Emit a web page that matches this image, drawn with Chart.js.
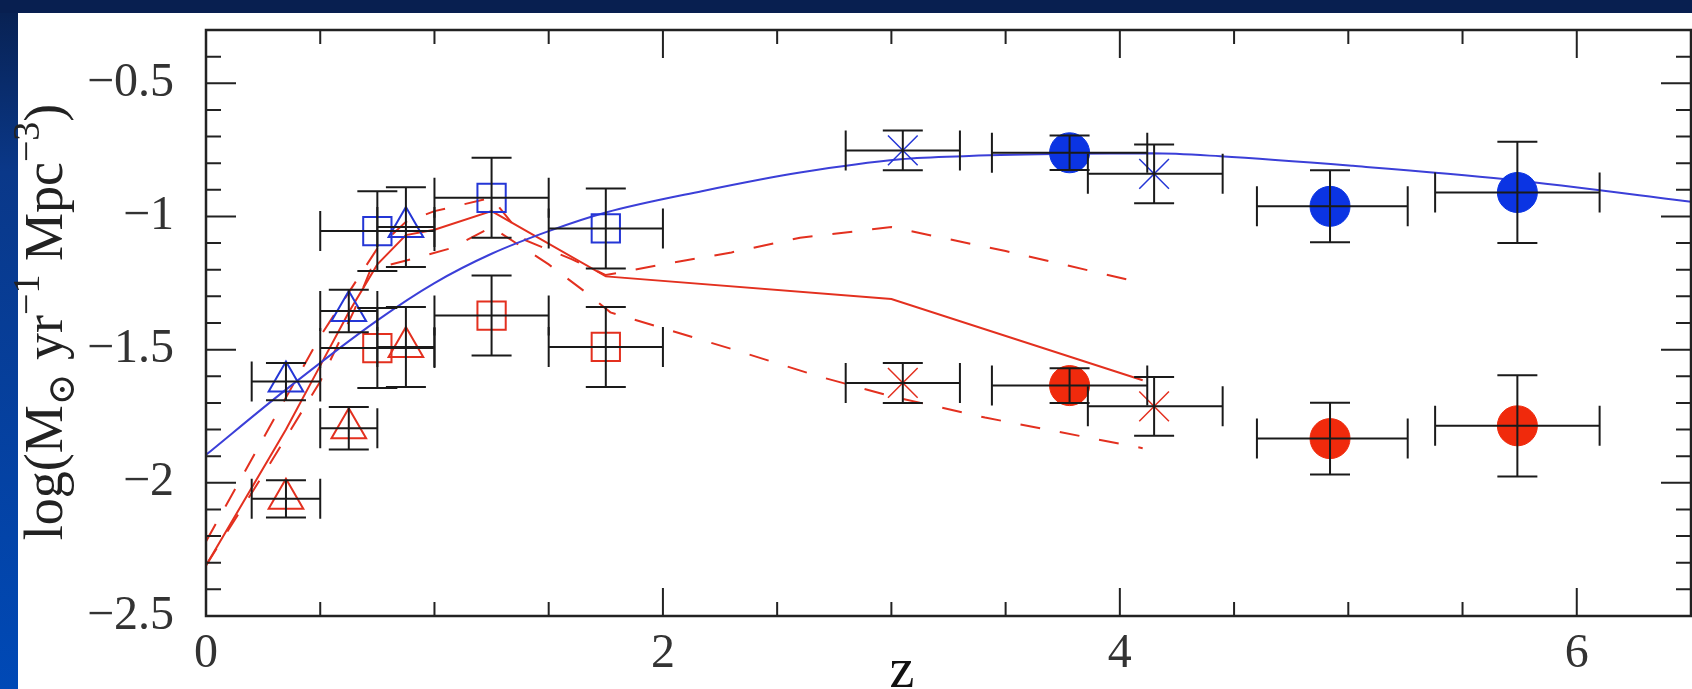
<!DOCTYPE html>
<html>
<head>
<meta charset="utf-8">
<script src="https://cdn.jsdelivr.net/npm/chart.js@4.4.1/dist/chart.umd.min.js"></script>
<style>
  html, body { margin: 0; padding: 0; background: #ffffff; }
  #sfr-chart { display: block; }
</style>
</head>
<body>
<canvas id="sfr-chart" width="1692" height="689"></canvas>
<script>
// axis ticks
var xMajorTicks = [0, 2, 4, 6];
var yMajorTicks = [-2.5, -2, -1.5, -1, -0.5];

// open triangles (z bins 0.2-0.5, 0.5-0.75, 0.75-1)
var triZ = [0.35, 0.625, 0.875];
var triZLo = [0.2, 0.5, 0.75];
var triZHi = [0.5, 0.75, 1.0];
var triBlue = [-1.62, -1.355, -1.04];
var triRed = [-2.06, -1.795, -1.49];
var triErr = [0.07, 0.08, 0.15];

// open squares
var sqZ = [0.75, 1.25, 1.75];
var sqZLo = [0.5, 1.0, 1.5];
var sqZHi = [1.0, 1.5, 2.0];
var sqBlue = [-1.055, -0.93, -1.045];
var sqRed = [-1.494, -1.372, -1.49];
var sqErr = [0.15, 0.15, 0.15];

// crosses
var crossZ = [3.05, 4.15];
var crossZLo = [2.8, 3.86];
var crossZHi = [3.3, 4.45];
var crossBlue = [-0.752, -0.84];
var crossRed = [-1.625, -1.713];
var crossErr = [0.075, 0.11];

// filled circles
var circZ = [3.78, 4.92, 5.74];
var circZLo = [3.44, 4.6, 5.38];
var circZHi = [4.12, 5.26, 6.1];
var circBlue = [-0.761, -0.962, -0.91];
var circRed = [-1.635, -1.834, -1.786];
var circErr = [0.065, 0.135, 0.19];

// model curves
var blueModelZ = [0, 0.35, 0.75, 1.0, 1.25, 1.5, 1.75, 2.17, 2.6, 3.04, 3.34, 3.78, 4.14, 4.44, 5.02, 5.69, 6.42, 6.5];
var blueModel = [-1.895, -1.65, -1.39, -1.25, -1.14, -1.055, -0.985, -0.905, -0.835, -0.785, -0.773, -0.765, -0.763, -0.774, -0.81, -0.86, -0.936, -0.945];

var redSolidZ = [0, 0.35, 0.5, 0.625, 0.75, 0.875, 1.0, 1.25, 1.75, 3.0, 4.1];
var redSolid = [-2.31, -1.8, -1.56, -1.36, -1.18, -1.07, -1.05, -0.98, -1.225, -1.31, -1.615];

var redUpperZ = [0, 0.35, 0.5, 0.75, 0.875, 1.0, 1.25, 1.4, 1.6, 1.75, 2.0, 2.3, 2.6, 3.0, 3.5, 4.1];
var redUpper = [-2.22, -1.68, -1.45, -1.12, -1.02, -0.98, -0.93, -1.09, -1.16, -1.22, -1.18, -1.135, -1.08, -1.04, -1.13, -1.25];

var redLowerZ = [0, 0.25, 0.5, 0.65, 0.72, 0.9, 1.07, 1.25, 1.5, 1.67, 1.77, 2.31, 2.68, 3.0, 3.41, 4.1];
var redLower = [-2.31, -1.97, -1.62, -1.35, -1.2, -1.16, -1.12, -1.04, -1.18, -1.29, -1.36, -1.5, -1.6, -1.675, -1.755, -1.87];

var blue = "#2436d6";
var red = "#e3301f";
var serif = "'Liberation Serif', 'DejaVu Serif', serif";

function withErrors(z, zLo, zHi, vals, err) {
  return z.map(function (v, i) {
    return { x: v, y: vals[i], xMin: zLo[i], xMax: zHi[i], yMin: vals[i] - err[i], yMax: vals[i] + err[i] };
  });
}

function curve(z, vals) {
  return z.map(function (v, i) { return { x: v, y: vals[i] }; });
}

function minus(v) {
  return (v < 0 ? "\u2212" : "") + Math.abs(v);
}

// navy frame round the white page
var pageFrame = {
  id: "pageFrame",
  beforeDraw: function (chart) {
    var ctx = chart.ctx;
    var w = chart.width, h = chart.height;
    ctx.save();
    var g = ctx.createLinearGradient(0, 0, 0, h);
    g.addColorStop(0, "#08204f");
    g.addColorStop(0.25, "#0a3889");
    g.addColorStop(1, "#0049b6");
    ctx.fillStyle = g;
    ctx.fillRect(0, 0, w, h);
    ctx.fillStyle = "#081f50";
    ctx.fillRect(0, 0, w, 13);
    ctx.fillStyle = "#ffffff";
    ctx.fillRect(18, 13, w - 18, h - 13);
    ctx.restore();
  }
};

// error bars with caps
var errorBars = {
  id: "errorBars",
  afterDatasetsDraw: function (chart) {
    var ctx = chart.ctx;
    var xs = chart.scales.x, ys = chart.scales.y;
    var cap = 20;
    ctx.save();
    ctx.strokeStyle = "#1a1a1a";
    ctx.lineWidth = 2;
    chart.data.datasets.forEach(function (ds) {
      if (!ds.errorBars) return;
      ds.data.forEach(function (p) {
        var cx = xs.getPixelForValue(p.x), cy = ys.getPixelForValue(p.y);
        var x0 = xs.getPixelForValue(p.xMin), x1 = xs.getPixelForValue(p.xMax);
        var y0 = ys.getPixelForValue(p.yMin), y1 = ys.getPixelForValue(p.yMax);
        ctx.beginPath();
        ctx.moveTo(x0, cy); ctx.lineTo(x1, cy);
        ctx.moveTo(x0, cy - cap); ctx.lineTo(x0, cy + cap);
        ctx.moveTo(x1, cy - cap); ctx.lineTo(x1, cy + cap);
        ctx.moveTo(cx, y0); ctx.lineTo(cx, y1);
        ctx.moveTo(cx - cap, y0); ctx.lineTo(cx + cap, y0);
        ctx.moveTo(cx - cap, y1); ctx.lineTo(cx + cap, y1);
        ctx.stroke();
      });
    });
    ctx.restore();
  }
};

// box round the plot, ticks pointing inwards, and the axis titles
var frameTicks = {
  id: "frameTicks",
  afterDraw: function (chart) {
    var ctx = chart.ctx;
    var a = chart.chartArea;
    var xs = chart.scales.x, ys = chart.scales.y;
    ctx.save();
    ctx.strokeStyle = "#222";
    ctx.lineWidth = 2;
    ctx.beginPath();
    for (var k = 0; k <= 13; k++) {
      var v = k / 2;
      var px = xs.getPixelForValue(v);
      var len = xMajorTicks.indexOf(v) >= 0 ? 28 : 14;
      ctx.moveTo(px, a.bottom); ctx.lineTo(px, a.bottom - len);
      ctx.moveTo(px, a.top); ctx.lineTo(px, a.top + len);
    }
    for (var j = -25; j <= -3; j++) {
      var py = ys.getPixelForValue(j / 10);
      var ylen = j % 5 === 0 ? 30 : 15;
      ctx.moveTo(a.left, py); ctx.lineTo(a.left + ylen, py);
      ctx.moveTo(a.right, py); ctx.lineTo(a.right - ylen, py);
    }
    ctx.stroke();
    ctx.lineWidth = 2.5;
    ctx.strokeRect(a.left, a.top, a.right - a.left, a.bottom - a.top);

    // x title
    ctx.fillStyle = "#111";
    ctx.font = "56px " + serif;
    ctx.textAlign = "center";
    ctx.textBaseline = "alphabetic";
    ctx.fillText("z", 902, 687);

    // y title with sub- and superscripts
    var big = 54, small = 38;
    var parts = [
      { t: "log(M", s: big, dy: 0 },
      { t: "\u2299", s: small, dy: 0.22 * big },
      { t: " yr", s: big, dy: 0 },
      { t: "\u22121", s: small, dy: -0.42 * big },
      { t: " Mpc", s: big, dy: 0 },
      { t: "\u22123", s: small, dy: -0.42 * big },
      { t: ")", s: big, dy: 0 }
    ];
    var total = 0;
    parts.forEach(function (p) {
      ctx.font = p.s + "px " + serif;
      p.w = ctx.measureText(p.t).width;
      total += p.w;
    });
    ctx.fillStyle = "#222";
    ctx.translate(62, 322);
    ctx.rotate(-Math.PI / 2);
    ctx.textAlign = "left";
    var cur = -total / 2;
    parts.forEach(function (p) {
      ctx.font = p.s + "px " + serif;
      ctx.fillText(p.t, cur, p.dy);
      cur += p.w;
    });
    ctx.restore();
  }
};

var datasets = [
  { label: "blue triangles", data: withErrors(triZ, triZLo, triZHi, triBlue, triErr), errorBars: true,
    pointStyle: "triangle", pointRadius: 20, borderColor: blue, backgroundColor: "rgba(0,0,0,0)", borderWidth: 2, showLine: false, order: 0 },
  { label: "red triangles", data: withErrors(triZ, triZLo, triZHi, triRed, triErr), errorBars: true,
    pointStyle: "triangle", pointRadius: 20, borderColor: red, backgroundColor: "rgba(0,0,0,0)", borderWidth: 2, showLine: false, order: 0 },
  { label: "blue squares", data: withErrors(sqZ, sqZLo, sqZHi, sqBlue, sqErr), errorBars: true,
    pointStyle: "rect", pointRadius: 20, borderColor: blue, backgroundColor: "rgba(0,0,0,0)", borderWidth: 2, showLine: false, order: 0 },
  { label: "red squares", data: withErrors(sqZ, sqZLo, sqZHi, sqRed, sqErr), errorBars: true,
    pointStyle: "rect", pointRadius: 20, borderColor: red, backgroundColor: "rgba(0,0,0,0)", borderWidth: 2, showLine: false, order: 0 },
  { label: "blue crosses", data: withErrors(crossZ, crossZLo, crossZHi, crossBlue, crossErr), errorBars: true,
    pointStyle: "crossRot", pointRadius: 21, borderColor: blue, backgroundColor: blue, borderWidth: 1.5, showLine: false, order: 0 },
  { label: "red crosses", data: withErrors(crossZ, crossZLo, crossZHi, crossRed, crossErr), errorBars: true,
    pointStyle: "crossRot", pointRadius: 21, borderColor: red, backgroundColor: red, borderWidth: 1.5, showLine: false, order: 0 },
  { label: "blue circles", data: withErrors(circZ, circZLo, circZHi, circBlue, circErr), errorBars: true,
    pointStyle: "circle", pointRadius: 20, borderColor: "#0b34e3", backgroundColor: "#0b34e3", borderWidth: 1, showLine: false, order: 0 },
  { label: "red circles", data: withErrors(circZ, circZLo, circZHi, circRed, circErr), errorBars: true,
    pointStyle: "circle", pointRadius: 20, borderColor: "#f02a0c", backgroundColor: "#f02a0c", borderWidth: 1, showLine: false, order: 0 },
  { label: "blue model", data: curve(blueModelZ, blueModel), showLine: true, pointRadius: 0,
    borderColor: "#3b3fd8", borderWidth: 2, cubicInterpolationMode: "monotone", order: 1 },
  { label: "red model", data: curve(redSolidZ, redSolid), showLine: true, pointRadius: 0,
    borderColor: red, borderWidth: 2, tension: 0, order: 1 },
  { label: "red model high", data: curve(redUpperZ, redUpper), showLine: true, pointRadius: 0,
    borderColor: red, borderWidth: 2, borderDash: [20, 20], tension: 0, order: 1 },
  { label: "red model low", data: curve(redLowerZ, redLower), showLine: true, pointRadius: 0,
    borderColor: red, borderWidth: 2, borderDash: [20, 20], tension: 0, order: 1 }
];

var canvas = document.getElementById("sfr-chart");
var ctx = canvas.getContext("2d");

var chart = new Chart(ctx, {
  type: "scatter",
  data: { datasets: datasets },
  options: {
    responsive: false,
    animation: false,
    layout: { autoPadding: false, padding: { left: 0, right: 1, top: 30, bottom: 0 } },
    plugins: { legend: { display: false }, tooltip: { enabled: false } },
    scales: {
      x: {
        type: "linear",
        min: 0,
        max: 6.5,
        grid: { display: false, drawTicks: false },
        border: { display: false },
        afterBuildTicks: function (scale) { scale.ticks = xMajorTicks.map(function (v) { return { value: v }; }); },
        afterFit: function (scale) {
          scale.height = 73;
          scale.paddingLeft = 0; scale.paddingRight = 0; scale.paddingTop = 0; scale.paddingBottom = 0;
        },
        ticks: { autoSkip: false, maxRotation: 0, padding: 10, color: "#333",
          font: { family: serif, size: 48 }, callback: function (v) { return minus(v); } }
      },
      y: {
        type: "linear",
        min: -2.5,
        max: -0.3,
        grid: { display: false, drawTicks: false },
        border: { display: false },
        afterBuildTicks: function (scale) { scale.ticks = yMajorTicks.map(function (v) { return { value: v }; }); },
        afterFit: function (scale) {
          scale.width = 206;
          scale.paddingLeft = 0; scale.paddingRight = 0; scale.paddingTop = 0; scale.paddingBottom = 0;
        },
        ticks: { autoSkip: false, padding: 32, color: "#333",
          font: { family: serif, size: 48 }, callback: function (v) { return minus(v); } }
      }
    }
  },
  plugins: [pageFrame, errorBars, frameTicks]
});
</script>
</body>
</html>
